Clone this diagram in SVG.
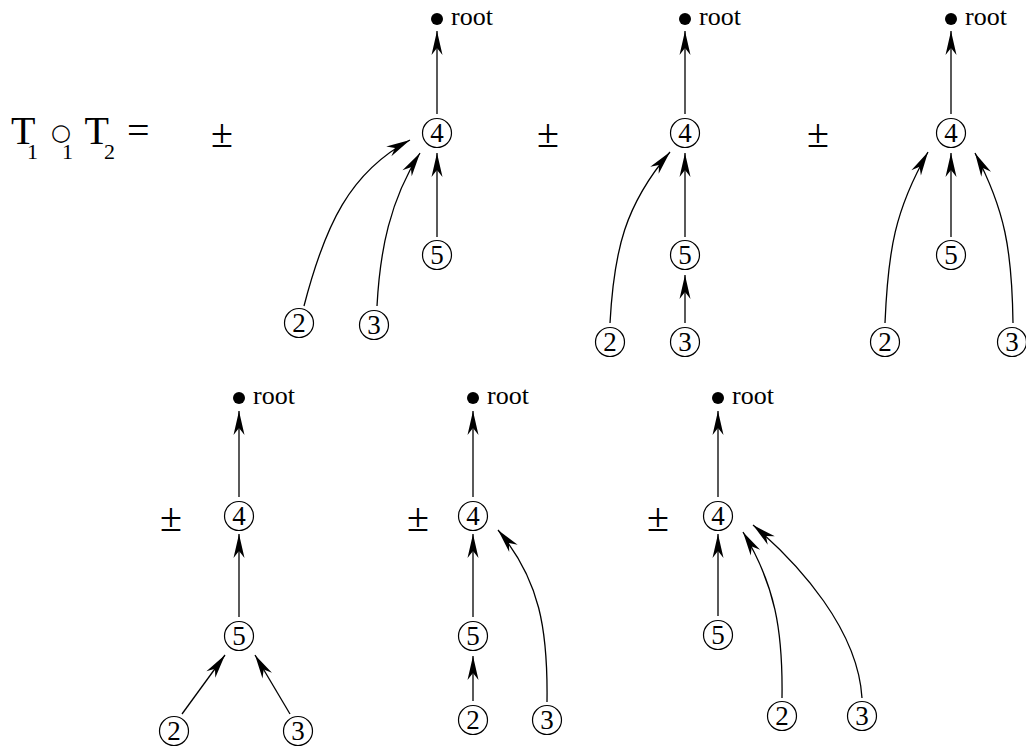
<svg xmlns="http://www.w3.org/2000/svg" width="1026" height="749" viewBox="0 0 1026 749">
  <style>
    text { font-family: "Liberation Serif", "Times New Roman", serif; fill: #000; }
    .node circle { fill: #fff; stroke: #000; stroke-width: 1.2; }
    .node text { font-size: 27px; text-anchor: middle; }
    .root circle { fill: #000; stroke: none; }
    .root text { font-size: 26px; }
    .sign { font-size: 40px; text-anchor: middle; }
    .edge { fill: none; stroke: #000; stroke-width: 1.3; marker-end: url(#arrow); }
  </style>
  <defs>
    <marker id="arrow" markerUnits="userSpaceOnUse" markerWidth="30" markerHeight="16" refX="0" refY="0" viewBox="-26 -8 30 16" orient="auto" overflow="visible">
      <path d="M0,0 L-24,-5.5 L-17,0 L-24,5.5 Z" fill="#000"/>
    </marker>
  </defs>

  <!-- left-hand side of the equation: T1 composed-at-1 T2 -->
  <g id="equation">
    <text x="11" y="144" font-size="40">T<tspan x="27" y="159" font-size="22">1</tspan><tspan x="61" y="140" font-size="23" font-family="DejaVu Sans, sans-serif" text-anchor="middle">○</tspan><tspan x="62" y="159" font-size="22">1</tspan><tspan x="84.5" y="144">T</tspan><tspan x="104" y="159" font-size="22">2</tspan><tspan x="127" y="144">=</tspan></text>
  </g>

  <!-- sign in front of each term -->
  <g id="signs">
    <text class="sign" x="222" y="147">±</text>
    <text class="sign" x="548" y="147">±</text>
    <text class="sign" x="818" y="147">±</text>
    <text class="sign" x="171" y="531">±</text>
    <text class="sign" x="418" y="531">±</text>
    <text class="sign" x="658" y="531">±</text>
  </g>

  <g id="connectors">
    <!-- term 1 -->
    <path class="edge" d="M437,114 L437,31"/>
    <path class="edge" d="M437,237 L437,153"/>
    <path class="edge" d="M304,306 C325,225 350,172 410,140"/>
    <path class="edge" d="M377,306 C380,250 390,200 420,153"/>
    <!-- term 2 -->
    <path class="edge" d="M685,114 L685,31"/>
    <path class="edge" d="M685,237 L685,153"/>
    <path class="edge" d="M685,323 L685,275"/>
    <path class="edge" d="M610,323 C614,250 625,205 670,152"/>
    <!-- term 3 -->
    <path class="edge" d="M951,114 L951,31"/>
    <path class="edge" d="M951,237 L951,153"/>
    <path class="edge" d="M885,323 C888,250 895,210 928,152"/>
    <path class="edge" d="M1013,323 C1012,250 1005,210 975,153"/>
    <!-- term 4 -->
    <path class="edge" d="M239,497 L239,411"/>
    <path class="edge" d="M239,617 L239,534"/>
    <path class="edge" d="M182,714 L225,655"/>
    <path class="edge" d="M290,714 L255,655"/>
    <!-- term 5 -->
    <path class="edge" d="M473,497 L473,411"/>
    <path class="edge" d="M473,617 L473,534"/>
    <path class="edge" d="M473,701 L473,656"/>
    <path class="edge" d="M547,702 C548,630 540,580 498,530"/>
    <!-- term 6 -->
    <path class="edge" d="M718,497 L718,411"/>
    <path class="edge" d="M718,616 L718,534"/>
    <path class="edge" d="M782,698 C783,630 775,585 743,532"/>
    <path class="edge" d="M862,698 C858,630 800,565 753,525"/>
  </g>

  <!-- term 1 -->
  <g id="t1-root" class="root"><circle cx="437" cy="19" r="6"/><text x="451" y="25">root</text></g>
  <g id="t1-n4" class="node"><circle cx="437" cy="133" r="14.5"/><text x="437" y="142">4</text></g>
  <g id="t1-n5" class="node"><circle cx="437" cy="255" r="14.5"/><text x="437" y="264">5</text></g>
  <g id="t1-n2" class="node"><circle cx="299" cy="323" r="14.5"/><text x="299" y="332">2</text></g>
  <g id="t1-n3" class="node"><circle cx="374" cy="325" r="14.5"/><text x="374" y="334">3</text></g>

  <!-- term 2 -->
  <g id="t2-root" class="root"><circle cx="685" cy="19" r="6"/><text x="699" y="25">root</text></g>
  <g id="t2-n4" class="node"><circle cx="685" cy="133" r="14.5"/><text x="685" y="142">4</text></g>
  <g id="t2-n5" class="node"><circle cx="685" cy="255" r="14.5"/><text x="685" y="264">5</text></g>
  <g id="t2-n2" class="node"><circle cx="610" cy="342" r="14.5"/><text x="610" y="351">2</text></g>
  <g id="t2-n3" class="node"><circle cx="685" cy="342" r="14.5"/><text x="685" y="351">3</text></g>

  <!-- term 3 -->
  <g id="t3-root" class="root"><circle cx="951" cy="19" r="6"/><text x="965" y="25">root</text></g>
  <g id="t3-n4" class="node"><circle cx="951" cy="133" r="14.5"/><text x="951" y="142">4</text></g>
  <g id="t3-n5" class="node"><circle cx="951" cy="255" r="14.5"/><text x="951" y="264">5</text></g>
  <g id="t3-n2" class="node"><circle cx="885" cy="342" r="14.5"/><text x="885" y="351">2</text></g>
  <g id="t3-n3" class="node"><circle cx="1012" cy="342" r="14.5"/><text x="1012" y="351">3</text></g>

  <!-- term 4 -->
  <g id="t4-root" class="root"><circle cx="239" cy="398" r="6"/><text x="253" y="404">root</text></g>
  <g id="t4-n4" class="node"><circle cx="239" cy="516" r="14.5"/><text x="239" y="525">4</text></g>
  <g id="t4-n5" class="node"><circle cx="239" cy="636" r="14.5"/><text x="239" y="645">5</text></g>
  <g id="t4-n2" class="node"><circle cx="174" cy="731" r="14.5"/><text x="174" y="740">2</text></g>
  <g id="t4-n3" class="node"><circle cx="298" cy="731" r="14.5"/><text x="298" y="740">3</text></g>

  <!-- term 5 -->
  <g id="t5-root" class="root"><circle cx="473" cy="398" r="6"/><text x="487" y="404">root</text></g>
  <g id="t5-n4" class="node"><circle cx="473" cy="516" r="14.5"/><text x="473" y="525">4</text></g>
  <g id="t5-n5" class="node"><circle cx="473" cy="636" r="14.5"/><text x="473" y="645">5</text></g>
  <g id="t5-n2" class="node"><circle cx="473" cy="720" r="14.5"/><text x="473" y="729">2</text></g>
  <g id="t5-n3" class="node"><circle cx="547" cy="720" r="14.5"/><text x="547" y="729">3</text></g>

  <!-- term 6 -->
  <g id="t6-root" class="root"><circle cx="718" cy="398" r="6"/><text x="732" y="404">root</text></g>
  <g id="t6-n4" class="node"><circle cx="718" cy="516" r="14.5"/><text x="718" y="525">4</text></g>
  <g id="t6-n5" class="node"><circle cx="718" cy="635" r="14.5"/><text x="718" y="644">5</text></g>
  <g id="t6-n2" class="node"><circle cx="782" cy="716" r="14.5"/><text x="782" y="725">2</text></g>
  <g id="t6-n3" class="node"><circle cx="862" cy="716" r="14.5"/><text x="862" y="725">3</text></g>
</svg>
